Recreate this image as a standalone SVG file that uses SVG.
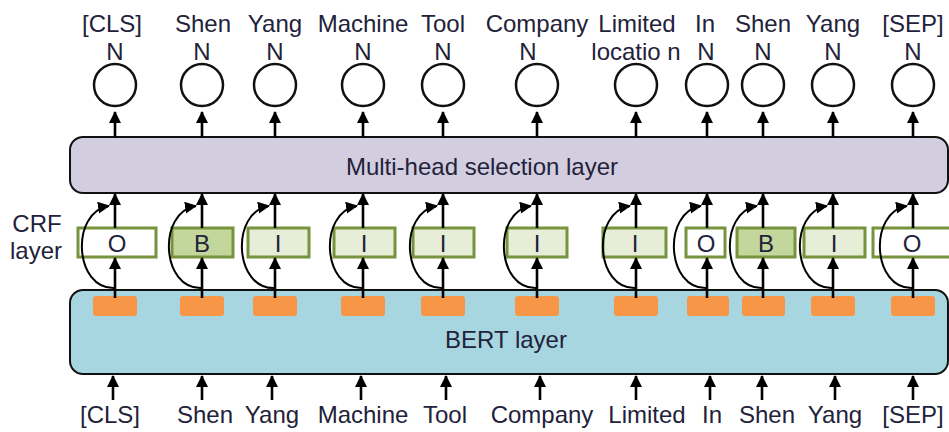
<svg xmlns="http://www.w3.org/2000/svg" width="949" height="432" viewBox="0 0 949 432">
<defs>
<marker id="ah" viewBox="0 0 12 12" refX="11" refY="6" markerWidth="12" markerHeight="12" markerUnits="userSpaceOnUse" orient="auto">
<path d="M0,0 L12,6 L0,12 z" fill="#000"/>
</marker>
</defs>
<style>
text{font-family:"Liberation Sans",Arial,sans-serif;font-size:24px;fill:#22223a;text-anchor:middle}
.c{fill:#fff;stroke:#111;stroke-width:2.5}
.crf{stroke:#77933c;stroke-width:3}
.o{fill:#fff}.b{fill:#c3d69b}.i{fill:#e6eed8}
.emb{fill:#f79646}
.ar{fill:none;stroke:#000;stroke-width:2.6;marker-end:url(#ah)}
.cv{fill:none;stroke:#000;stroke-width:2;marker-end:url(#ah)}
</style>
<rect width="949" height="432" fill="#fff"/>

<g id="bert-layer">
<rect x="70" y="290" width="878" height="84" rx="13" fill="#a8d6e0" stroke="#111" stroke-width="2"/>
<text x="506" y="348">BERT layer</text>
</g>
<g id="multihead-layer">
<rect x="70" y="137" width="878" height="56" rx="13" fill="#d3cde0" stroke="#111" stroke-width="2"/>
<text x="482" y="175">Multi-head selection layer</text>
</g>
<g id="crf-label">
<text x="37" y="232">CRF</text>
<text x="36" y="259">layer</text>
</g>

<g id="embeddings">
<rect class="emb" x="93" y="296" width="44" height="20" rx="3"/>
<rect class="emb" x="180" y="296" width="44" height="20" rx="3"/>
<rect class="emb" x="253" y="296" width="44" height="20" rx="3"/>
<rect class="emb" x="341" y="296" width="44" height="20" rx="3"/>
<rect class="emb" x="421" y="296" width="44" height="20" rx="3"/>
<rect class="emb" x="515" y="296" width="44" height="20" rx="3"/>
<rect class="emb" x="614" y="296" width="44" height="20" rx="3"/>
<rect class="emb" x="687" y="296" width="42" height="20" rx="3"/>
<rect class="emb" x="742" y="296" width="43" height="20" rx="3"/>
<rect class="emb" x="811" y="296" width="44" height="20" rx="3"/>
<rect class="emb" x="891" y="296" width="44" height="20" rx="3"/>
</g>

<g id="crf-tags">
<rect class="crf o" x="78" y="228" width="78" height="29"/><text x="117" y="252">O</text>
<rect class="crf b" x="172" y="228" width="61" height="29"/><text x="202" y="252">B</text>
<rect class="crf i" x="248" y="228" width="61" height="29"/><text x="278" y="252">I</text>
<rect class="crf i" x="334" y="228" width="61" height="29"/><text x="364" y="252">I</text>
<rect class="crf i" x="413" y="228" width="61" height="29"/><text x="443" y="252">I</text>
<rect class="crf i" x="507" y="228" width="60" height="29"/><text x="537" y="252">I</text>
<rect class="crf i" x="603" y="228" width="63" height="29"/><text x="635" y="252">I</text>
<rect class="crf o" x="686" y="228" width="39" height="29"/><text x="706" y="252">O</text>
<rect class="crf b" x="737" y="228" width="58" height="29"/><text x="766" y="252">B</text>
<rect class="crf i" x="804" y="228" width="61" height="29"/><text x="834" y="252">I</text>
<rect class="crf o" x="873" y="228" width="80" height="29"/><text x="912" y="252">O</text>
</g>

<g id="outputs">
<circle class="c" cx="115" cy="85" r="21"/>
<circle class="c" cx="202" cy="85" r="21"/>
<circle class="c" cx="275" cy="85" r="21"/>
<circle class="c" cx="363" cy="85" r="21"/>
<circle class="c" cx="443" cy="85" r="21"/>
<circle class="c" cx="537" cy="85" r="21"/>
<circle class="c" cx="636" cy="85" r="21"/>
<circle class="c" cx="707" cy="85" r="21"/>
<circle class="c" cx="763" cy="85" r="21"/>
<circle class="c" cx="833" cy="85" r="21"/>
<circle class="c" cx="913" cy="85" r="21"/>
</g>

<g id="top-labels">
<text x="112" y="32">[CLS]</text><text x="115" y="60">N</text>
<text x="203" y="32">Shen</text><text x="202" y="60">N</text>
<text x="275" y="32">Yang</text><text x="275" y="60">N</text>
<text x="363" y="32">Machine</text><text x="363" y="60">N</text>
<text x="443" y="32">Tool</text><text x="443" y="60">N</text>
<text x="537" y="32">Company</text><text x="528" y="60">N</text>
<text x="637" y="32">Limited</text><text x="636" y="60">locatio n</text>
<text x="705" y="32">In</text><text x="706" y="60">N</text>
<text x="763" y="32">Shen</text><text x="763" y="60">N</text>
<text x="833" y="32">Yang</text><text x="833" y="60">N</text>
<text x="913" y="32">[SEP]</text><text x="913" y="60">N</text>
</g>

<g id="bottom-labels">
<text x="110" y="423">[CLS]</text>
<text x="205" y="423">Shen</text>
<text x="272" y="423">Yang</text>
<text x="363" y="423">Machine</text>
<text x="445" y="423">Tool</text>
<text x="542" y="423">Company</text>
<text x="647" y="423">Limited</text>
<text x="712" y="423">In</text>
<text x="767" y="423">Shen</text>
<text x="835" y="423">Yang</text>
<text x="913" y="423">[SEP]</text>
</g>

<g id="connectors">
<path class="ar" d="M113,400 V376"/>
<path class="ar" d="M202,400 V376"/>
<path class="ar" d="M272,400 V376"/>
<path class="ar" d="M361,400 V376"/>
<path class="ar" d="M446,400 V376"/>
<path class="ar" d="M540,400 V376"/>
<path class="ar" d="M636,400 V376"/>
<path class="ar" d="M710,400 V376"/>
<path class="ar" d="M762,400 V376"/>
<path class="ar" d="M835,400 V376"/>
<path class="ar" d="M913,400 V376"/>
<path class="ar" d="M115,137 V112"/>
<path class="ar" d="M202,137 V112"/>
<path class="ar" d="M275,137 V112"/>
<path class="ar" d="M363,137 V112"/>
<path class="ar" d="M443,137 V112"/>
<path class="ar" d="M537,137 V112"/>
<path class="ar" d="M636,137 V112"/>
<path class="ar" d="M707,137 V112"/>
<path class="ar" d="M763,137 V112"/>
<path class="ar" d="M833,137 V112"/>
<path class="ar" d="M913,137 V112"/>
<g id="col1"><path class="ar" d="M115,298 V258"/><path class="ar" d="M115,228 V194"/><path class="cv" d="M115,288 C74,290 70,212 109,206"/></g>
<g id="col2"><path class="ar" d="M202,298 V258"/><path class="ar" d="M202,228 V194"/><path class="cv" d="M202,288 C161,290 157,212 196,206"/></g>
<g id="col3"><path class="ar" d="M275,298 V258"/><path class="ar" d="M275,228 V194"/><path class="cv" d="M275,288 C234,290 230,212 269,206"/></g>
<g id="col4"><path class="ar" d="M363,298 V258"/><path class="ar" d="M363,228 V194"/><path class="cv" d="M363,288 C322,290 318,212 357,206"/></g>
<g id="col5"><path class="ar" d="M443,298 V258"/><path class="ar" d="M443,228 V194"/><path class="cv" d="M443,288 C402,290 398,212 437,206"/></g>
<g id="col6"><path class="ar" d="M537,298 V258"/><path class="ar" d="M537,228 V194"/><path class="cv" d="M537,288 C496,290 492,212 531,206"/></g>
<g id="col7"><path class="ar" d="M636,298 V258"/><path class="ar" d="M636,228 V194"/><path class="cv" d="M636,288 C595,290 591,212 630,206"/></g>
<g id="col8"><path class="ar" d="M707,298 V258"/><path class="ar" d="M707,228 V194"/><path class="cv" d="M707,288 C666,290 662,212 701,206"/></g>
<g id="col9"><path class="ar" d="M763,298 V258"/><path class="ar" d="M763,228 V194"/><path class="cv" d="M763,288 C722,290 718,212 757,206"/></g>
<g id="col10"><path class="ar" d="M833,298 V258"/><path class="ar" d="M833,228 V194"/><path class="cv" d="M833,288 C792,290 788,212 827,206"/></g>
<g id="col11"><path class="ar" d="M913,298 V258"/><path class="ar" d="M913,228 V194"/><path class="cv" d="M913,288 C872,290 868,212 907,206"/></g>
</g>
</svg>
